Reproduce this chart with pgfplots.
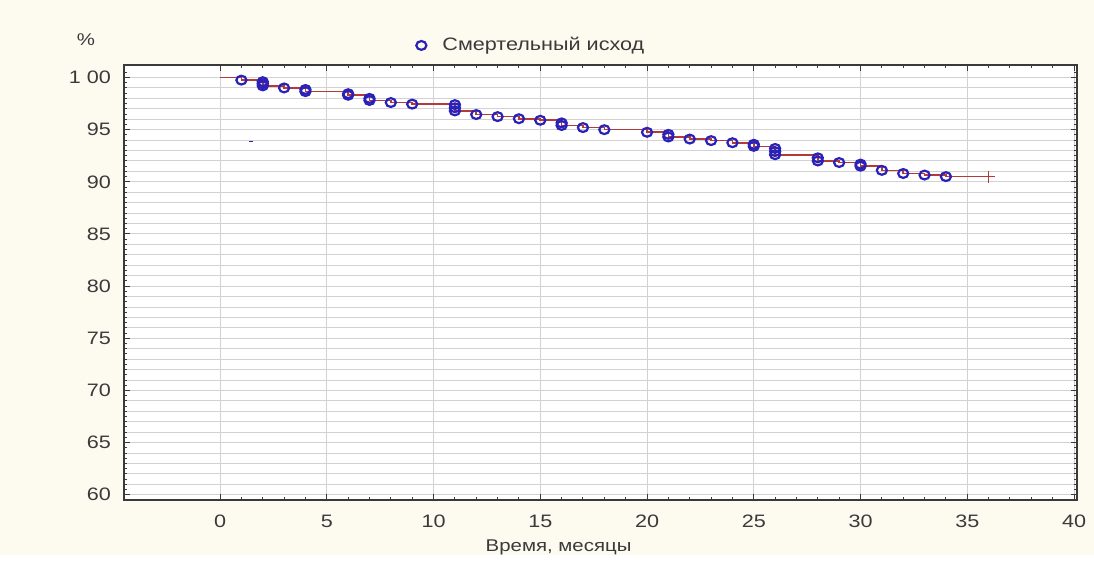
\documentclass[border=0pt]{standalone}
\usepackage{fontspec}
\setmainfont{Liberation Sans}[FakeStretch=1.2]
\usepackage{pgfplots}
\pgfplotsset{compat=1.18}
\definecolor{bgcream}{HTML}{FDFBF0}
\definecolor{gridgray}{HTML}{D2D2D2}
\definecolor{kmred}{HTML}{B23A3A}
\definecolor{kmblue}{HTML}{2A22B8}
\definecolor{axgray}{HTML}{3A3A3A}

\begin{document}
\begin{tikzpicture}
\fill[bgcream] (0,0) rectangle (547pt,277.5pt);
\begin{axis}[
    at={(62pt,27.5pt)}, anchor=south west,
    scale only axis, width=476.5pt, height=217.5pt,
    xmin=-4.5, xmax=40.14, ymin=59.5, ymax=101.2,
    axis background/.style={fill=white},
    axis line style={axgray, line width=0.8pt},
    xtick={0,5,...,40}, minor x tick num=4,
    ytick={60,65,...,100}, minor y tick num=4,
    yticklabels={60,65,70,75,80,85,90,95,1 00},
    xmajorgrids, ymajorgrids, yminorgrids,
    grid style={gridgray, line width=0.5pt},
    minor grid style={gridgray, line width=0.5pt},
    tick style={axgray, line width=0.5pt},
    major tick length=3pt, minor tick length=1.6pt,
    extra y ticks={60.5,61.5,...,100.5},
    extra y tick labels={},
    extra y tick style={grid=none, major tick length=1.6pt},
    tick label style={font=\fontsize{9}{10.8}\selectfont, text=axgray},
    /pgf/number format/assume math mode=true,
    xticklabel style={yshift=-4pt},
    yticklabel style={xshift=-3pt},
    xlabel={Время, месяцы},
    xlabel style={at={(rel axis cs:0.456,0)}, anchor=center, yshift=-23.5pt,
        font=\fontsize{8.5}{10}\selectfont, text=axgray},
    ylabel={\%},
    ylabel style={rotate=-90, at={(rel axis cs:-0.04,1.058)}, anchor=center,
        font=\fontsize{8.5}{10}\selectfont, text=axgray},
    legend style={draw=none, fill=none, at={(rel axis cs:0.3,1.045)}, anchor=west,
        font=\fontsize{9}{10.8}\selectfont, text=axgray},
    legend cell align=left,
]
% Kaplan-Meier step line
\addplot[const plot, kmred, line width=0.8pt, forget plot] coordinates {
 (0,100) (1,99.75) (2,99.2) (3,99.0) (4,98.65) (6,98.3) (7,97.8) (8,97.6)
 (9,97.45) (11,96.8) (12,96.45) (13,96.25) (14,96.05) (15,95.9) (16,95.4)
 (17,95.2) (18,95.0) (20,94.75) (21,94.3) (22,94.1) (23,93.95) (24,93.75)
 (25,93.4) (26,92.6) (28,92.0) (29,91.85) (30,91.5) (31,91.1) (32,90.8)
 (33,90.65) (34,90.5) (36,90.5)};
% end of follow-up
\addplot[only marks, mark=+, kmred, mark size=3pt, line width=0.7pt, forget plot]
 coordinates {(36,90.5)};
% stray point
\addplot[only marks, mark=-, kmblue, mark size=1.2pt, forget plot]
 coordinates {(1.45,93.9)};
% events
\addplot[only marks, mark=o, mark size=2.2pt, kmblue, line width=1.1pt,
    mark options={xscale=1.15}] coordinates {
 (1,99.75)
 (2,99.6) (2,99.4) (2,99.2)
 (3,99.0)
 (4,98.85) (4,98.65)
 (6,98.45) (6,98.3)
 (7,98.0) (7,97.8)
 (8,97.6)
 (9,97.45)
 (11,97.4) (11,97.1) (11,96.8)
 (12,96.45)
 (13,96.25)
 (14,96.05)
 (15,95.9)
 (16,95.65) (16,95.4)
 (17,95.2)
 (18,95.0)
 (20,94.75)
 (21,94.55) (21,94.3)
 (22,94.1)
 (23,93.95)
 (24,93.75)
 (25,93.6) (25,93.4)
 (26,93.2) (26,92.9) (26,92.6)
 (28,92.3) (28,92.0)
 (29,91.85)
 (30,91.7) (30,91.5)
 (31,91.1)
 (32,90.8)
 (33,90.65)
 (34,90.5)};
\addlegendentry{\hspace{6pt}Смертельный исход}
\end{axis}
\end{tikzpicture}
\end{document}
